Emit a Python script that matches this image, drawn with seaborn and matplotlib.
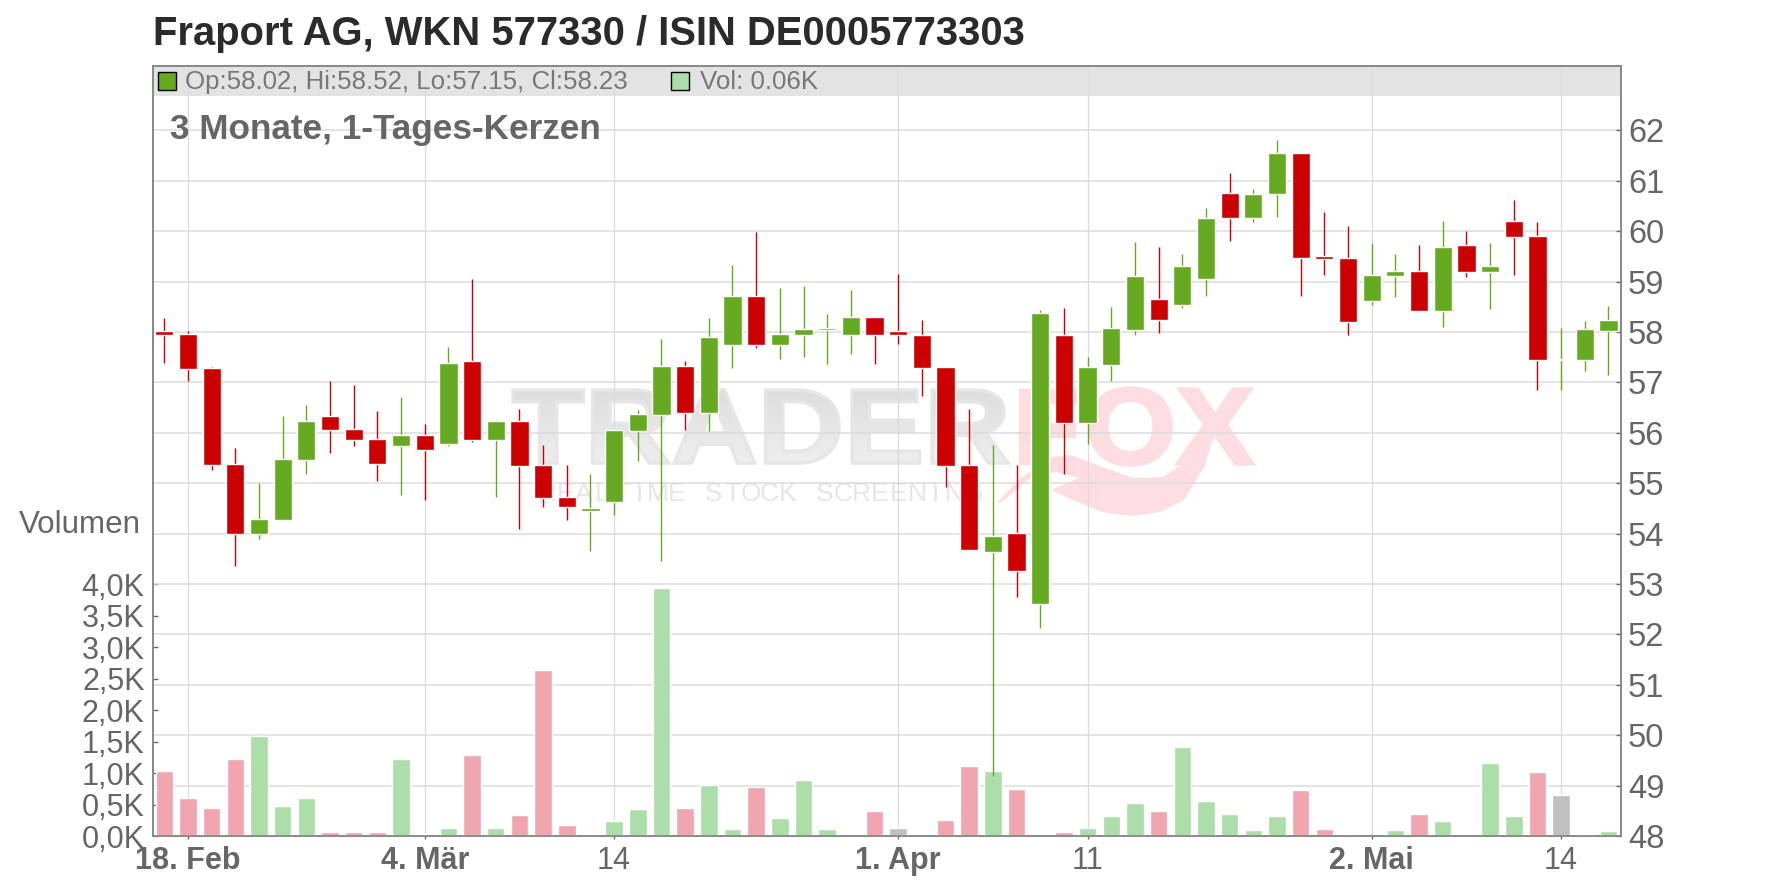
import numpy as np
import pandas as pd
import seaborn as sns
import matplotlib
matplotlib.use('Agg')
import matplotlib.pyplot as plt
from matplotlib.colors import LinearSegmentedColormap
from matplotlib.font_manager import FontProperties
from matplotlib.patches import PathPatch, Polygon, Rectangle
from matplotlib.textpath import TextPath
from matplotlib.transforms import Affine2D, IdentityTransform

# candle data
open_p = [58.01, 57.97, 57.29, 55.39, 54.00, 54.26, 55.47, 56.34, 56.08, 55.88, 55.74, 55.96, 55.78, 57.43, 55.86, 56.24,
          55.37, 54.73, 54.44, 54.63, 56.04, 56.36, 57.33, 56.40, 57.75, 58.72, 57.75, 57.95, 58.03, 57.95, 58.30, 58.01,
          57.95, 57.31, 55.37, 53.64, 54.02, 52.61, 57.95, 56.20, 57.35, 58.03, 58.66, 58.54, 59.06, 60.76, 60.27, 60.74,
          61.56, 59.51, 59.46, 58.62, 59.12, 59.22, 58.42, 59.73, 59.20, 60.21, 59.91, 57.45, 57.45, 58.02]
close_p = [57.95, 57.27, 55.37, 54.00, 54.28, 55.49, 56.24, 56.06, 55.86, 55.39, 55.96, 55.65, 57.39, 55.86, 56.24, 55.35,
           54.71, 54.53, 54.51, 56.06, 56.38, 57.33, 56.40, 57.91, 58.72, 57.75, 57.97, 58.05, 58.07, 58.30, 57.95, 57.95,
           57.29, 55.35, 53.68, 53.96, 53.26, 58.38, 56.20, 57.31, 58.07, 59.12, 58.24, 59.30, 60.27, 60.27, 60.74, 61.56,
           59.47, 59.44, 58.19, 59.14, 59.22, 58.42, 59.69, 59.20, 59.30, 59.89, 57.45, 57.47, 58.05, 58.23]
high_p = [58.28, 58.01, 57.31, 55.70, 55.01, 56.34, 56.56, 57.03, 56.94, 56.44, 56.72, 56.18, 57.71, 59.05, 56.26, 56.48,
          55.76, 55.37, 55.19, 56.06, 56.46, 57.87, 57.43, 58.28, 59.32, 59.99, 58.88, 58.92, 58.36, 58.84, 58.30, 59.16,
          58.24, 57.31, 56.48, 55.76, 55.37, 58.44, 58.48, 57.51, 58.50, 59.79, 59.69, 59.55, 60.47, 61.16, 60.84, 61.80,
          61.56, 60.39, 60.11, 59.77, 59.55, 59.73, 60.21, 60.01, 59.77, 60.61, 60.19, 58.07, 58.21, 58.52]
low_p = [57.39, 57.03, 55.27, 53.36, 53.90, 54.26, 55.19, 55.59, 55.74, 55.05, 54.77, 54.67, 55.74, 55.82, 54.73, 54.10,
         54.53, 54.26, 53.66, 54.36, 55.45, 53.46, 56.06, 56.04, 57.29, 57.69, 57.47, 57.51, 57.37, 57.57, 57.37, 57.77,
         56.74, 54.93, 53.68, 49.19, 52.75, 52.13, 55.19, 55.78, 57.03, 57.95, 57.99, 58.48, 58.72, 59.81, 60.19, 60.29,
         58.72, 59.14, 57.95, 58.54, 58.70, 58.42, 58.09, 59.10, 58.46, 59.14, 56.84, 56.84, 57.23, 57.15]

# volume in thousands, r = down, g = up, x = grey
volume = [1.035, 0.605, 0.45, 1.225, 1.59, 0.48, 0.605, 0.07, 0.07, 0.07, 1.225, 0.035, 0.13, 1.29, 0.13, 0.335,
          2.64, 0.18, 0.035, 0.24, 0.43, 3.94, 0.45, 0.81, 0.115, 0.78, 0.29, 0.89, 0.115, 0.0, 0.40, 0.13,
          0.0, 0.26, 1.115, 1.035, 0.75, 0.0, 0.065, 0.13, 0.32, 0.53, 0.40, 1.415, 0.56, 0.35, 0.10, 0.32,
          0.73, 0.115, 0.035, 0.0, 0.10, 0.35, 0.24, 0.0, 1.16, 0.32, 1.02, 0.655, 0.035, 0.08]
vol_kind = ['r', 'r', 'r', 'r', 'g', 'g', 'g', 'r', 'r', 'r', 'g', 'r', 'g', 'r', 'g', 'r',
            'r', 'r', 'r', 'g', 'g', 'g', 'r', 'g', 'g', 'r', 'g', 'g', 'g', 'g', 'r', 'x',
            'x', 'r', 'r', 'g', 'r', 'g', 'r', 'g', 'g', 'g', 'r', 'g', 'g', 'g', 'g', 'g',
            'r', 'r', 'r', 'g', 'g', 'r', 'g', 'g', 'g', 'g', 'r', 'x', 'g', 'g']

date_pos = [1, 11, 19, 31, 39, 51, 59]
date_labels = ['18. Feb', '4. Mär', '14', '1. Apr', '11', '2. Mai', '14']
date_bold = [True, True, False, True, False, True, False]
price_ticks = list(range(48, 63))
vol_ticks = [0, 0.5, 1, 1.5, 2, 2.5, 3, 3.5, 4]
vol_labels = ['0,0K', '0,5K', '1,0K', '1,5K', '2,0K', '2,5K', '3,0K', '3,5K', '4,0K']

GREEN = '#66aa22'
RED = '#cc0000'
PINK_LOGO = '#fddde1'
TXT = '#666666'
GRID = '#dcdcdc'
AXIS = '#8a8a8a'

sns.set_style('white')
plt.rcParams['font.family'] = ['Liberation Sans', 'DejaVu Sans']

W, H = 1776, 888
fig = plt.figure(figsize=(W / 100, H / 100), dpi=100)
fig.patch.set_facecolor('white')

# pixel box of the plot
L, R, T, B = 153, 1621, 66, 836
ax_vol = fig.add_axes([L / W, 1 - B / H, (R - L) / W, (B - T) / H])
ax = ax_vol.twinx()


def px(x, y):
    return x / W, 1 - y / H


# volume bars
df_vol = pd.DataFrame({'day': np.arange(len(volume)), 'vol': volume, 'kind': vol_kind})
sns.barplot(data=df_vol, x='day', y='vol', hue='kind', dodge=False, native_scale=True, width=0.74, saturation=1,
            palette={'r': '#f0a5af', 'g': '#acdeaa', 'x': '#c0c0c0'}, legend=False, ax=ax_vol, zorder=3)
ax_vol.set_xlabel('')
ax_vol.set_ylabel('')

# grid belongs to the price scale but has to sit under the bars
ax_vol.hlines(price_ticks, 0, 1, transform=ax.get_yaxis_transform(), color=GRID, lw=1.1, zorder=1)
ax_vol.vlines(date_pos, 0, 1, transform=ax_vol.get_xaxis_transform(), color=GRID, lw=0.9, zorder=1)

# header band
ax_vol.add_patch(Rectangle((0, (B - 96) / (B - T)), 1, 30 / (B - T), transform=ax_vol.transAxes,
                           facecolor='#e3e3e3', edgecolor='none', zorder=0.5))


# watermark, boxes are in pixels
def logo_word(word, x0, x1, y0, y1, colour):
    tp = TextPath((0, 0), word, size=100, prop=FontProperties(family='Liberation Sans', weight='bold'))
    ext = tp.get_extents()
    tr = (Affine2D().translate(-ext.x0, -ext.y0).scale((x1 - x0) / ext.width, (y1 - y0) / ext.height)
          .translate(x0, H - y1))
    patch = PathPatch(tr.transform_path(tp), facecolor=colour, edgecolor=colour, lw=2.5,
                      transform=IdentityTransform(), zorder=0.8)
    ax_vol.add_patch(patch)
    return patch


trader = logo_word('TRADER', 513, 1008, 390, 463, 'none')
trader.set_edgecolor('none')
fade = LinearSegmentedColormap.from_list('fade', ['#dcdcdc', '#f0f0f0'])
grad = ax_vol.imshow(np.linspace(0, 1, 64).reshape(-1, 1), cmap=fade, aspect='auto', zorder=0.8,
                     extent=(505, 1016, H - 470, H - 385), transform=IdentityTransform())
grad.set_clip_path(trader)
trader_edge = logo_word('TRADER', 513, 1008, 390, 463, 'none')
trader_edge.set_edgecolor('#e6e6e6')

logo_word('F', 1020, 1075, 390, 463, PINK_LOGO)
logo_word('OX', 1090, 1253, 388, 465, PINK_LOGO)
swoosh = [(997, 503), (1018, 480), (1051, 457), (1071, 455), (1097, 465), (1133, 478), (1163, 477), (1189, 460),
          (1212, 442), (1204, 467), (1184, 500), (1160, 512), (1133, 516), (1102, 512), (1061, 495), (1051, 490),
          (1079, 478), (1056, 472), (1031, 477), (1002, 502)]
ax_vol.add_patch(Polygon([(x, H - y) for x, y in swoosh], closed=True, facecolor=PINK_LOGO, edgecolor='none',
                         transform=IdentityTransform(), zorder=0.8))
for i, ch in enumerate('REALTIME STOCK SCREENING'):
    fig_x, fig_y = px(547 + i * 18.5, 494)
    ax_vol.text(fig_x, fig_y, ch, transform=fig.transFigure, fontsize=19, color='#e6e6e6', ha='center', va='center',
                zorder=0.9)

# candles
days = np.arange(len(open_p))
op = np.array(open_p)
cl = np.array(close_p)
colours = [GREEN if c >= o else RED for o, c in zip(op, cl)]
ax.vlines(days, low_p, high_p, colors=colours, lw=1.0, zorder=3)
ax.bar(days, np.abs(cl - op), bottom=np.minimum(op, cl), width=0.77, color=colours, zorder=4)

# axes, ticks
ax_vol.set_xlim(-0.477, 61.53)
ax_vol.set_ylim(0, (B - T) / 63)
ax.set_ylim(48, 48 + (B - T) / 50.4)

ax_vol.set_xticks(date_pos)
ax_vol.set_xticklabels(date_labels, fontsize=22, color=TXT)
for lab, bold in zip(ax_vol.get_xticklabels(), date_bold):
    lab.set_fontweight('bold' if bold else 'normal')
ax.tick_params(axis='x', bottom=False, labelbottom=False)
ax_vol.tick_params(axis='x', bottom=True, length=2.5, width=1, color=TXT, pad=5)

ax.set_yticks(price_ticks)
ax.tick_params(axis='y', right=True, direction='in', length=3.5, width=1, color=TXT, labelsize=23.5, labelcolor=TXT,
               pad=5)
ax_vol.set_yticks(vol_ticks)
ax_vol.set_yticklabels(vol_labels)
ax_vol.tick_params(axis='y', left=True, direction='in', length=3.5, width=1, color=TXT, labelsize=22, labelcolor=TXT,
                   pad=6)

for a in (ax, ax_vol):
    for s in a.spines.values():
        s.set_color(AXIS)
        s.set_linewidth(1.3)

# texts
fig.text(*px(153, 34), 'Fraport AG, WKN 577330 / ISIN DE0005773303', fontsize=28.8, fontweight='bold', color='#2b2b2b',
         va='center', ha='left')
fig.text(*px(170, 130), '3 Monate, 1-Tages-Kerzen', fontsize=25.3, fontweight='bold', color=TXT, va='center', ha='left')
fig.text(*px(141, 525), 'Volumen', fontsize=22.6, color=TXT, va='center', ha='right')
fig.text(*px(185, 82), 'Op:58.02, Hi:58.52, Lo:57.15, Cl:58.23', fontsize=18.6, color='#777777', va='center', ha='left')
fig.text(*px(700, 82), 'Vol: 0.06K', fontsize=18.6, color='#777777', va='center', ha='left')
fig.patches.append(Rectangle(px(158, 90), 18 / W, 18 / H, transform=fig.transFigure, facecolor=GREEN,
                             edgecolor='black', lw=1))
fig.patches.append(Rectangle(px(671, 90), 18 / W, 18 / H, transform=fig.transFigure, facecolor='#acdeaa',
                             edgecolor='black', lw=1))

fig.savefig('out.png', dpi=100)
